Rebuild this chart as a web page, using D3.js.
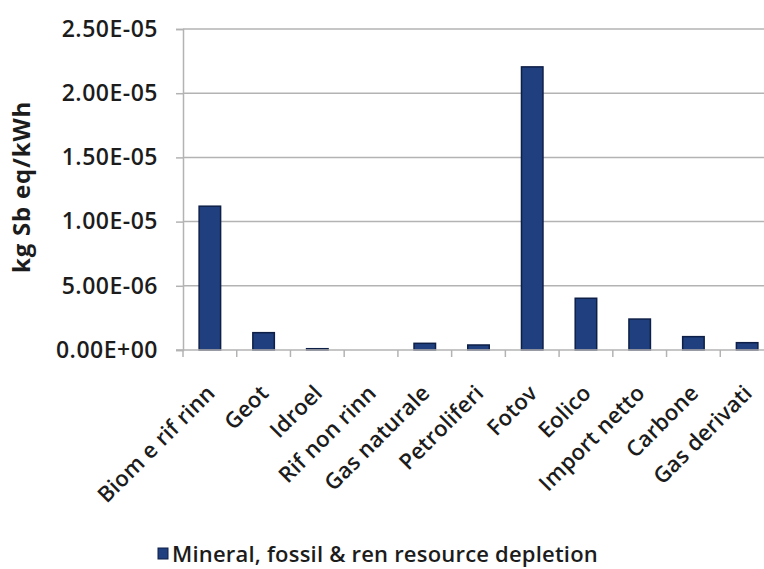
<!DOCTYPE html>
<html>
<head>
<meta charset="utf-8">
<script src="https://cdn.jsdelivr.net/npm/d3@7"></script>
<style>
  body { margin: 0; background: #fff; }
  text { font-family: "Open Sans", "Noto Sans", sans-serif; fill: #1c1c1c; }
</style>
</head>
<body>
<div id="chart"></div>
<script>
// data
const categories = ["Biom e rif rinn", "Geot", "Idroel", "Rif non rinn", "Gas naturale",
  "Petroliferi", "Fotov", "Eolico", "Import netto", "Carbone", "Gas derivati"];
const depletion = [1.12e-5, 1.35e-6, 1.0e-7, 0, 5.2e-7, 3.9e-7, 2.205e-5, 4.03e-6, 2.41e-6, 1.04e-6, 5.7e-7];
const yTicks = [0, 5e-6, 1e-5, 1.5e-5, 2e-5, 2.5e-5];
const seriesName = "Mineral, fossil & ren resource depletion";

const width = 764, height = 569;
const plotLeft = 183, plotRight = 774, plotTop = 29, plotBottom = 350;

const svg = d3.select("#chart").append("svg")
  .attr("width", width)
  .attr("height", height);

const x = d3.scaleBand()
  .domain(categories)
  .range([plotLeft, plotRight])
  .paddingInner(0.6)
  .paddingOuter(0.3);

const y = d3.scaleLinear()
  .domain([0, 2.5e-5])
  .range([plotBottom, plotTop]);

const fmt = v => {
  const s = v.toExponential(2).toUpperCase();
  // 1.50E-5 -> 1.50E-05
  return s.replace(/E([+-])(\d)$/, "E$10$2");
};

// gridlines
svg.append("g")
  .selectAll("line")
  .data(yTicks.slice(1))
  .enter().append("line")
  .attr("x1", plotLeft)
  .attr("x2", width)
  .attr("y1", d => y(d))
  .attr("y2", d => y(d))
  .attr("stroke", "#b3b3b3")
  .attr("stroke-width", 1.5);

// y axis
const yAxis = svg.append("g")
  .attr("transform", `translate(${plotLeft},0)`)
  .call(d3.axisLeft(y).tickValues(yTicks).tickFormat(fmt).tickSize(7).tickPadding(18));
yAxis.select(".domain").attr("stroke", "#b3b3b3").attr("stroke-width", 1.5);
yAxis.selectAll(".tick line").attr("stroke", "#b3b3b3").attr("stroke-width", 1.5);
yAxis.selectAll(".tick text")
  .attr("font-size", 23)
  .attr("font-weight", 600)
  .attr("letter-spacing", 0.5)
  .style("font-family", "'Open Sans', sans-serif")
  .attr("fill", "#1c1c1c");

// bars
svg.append("g")
  .selectAll("rect")
  .data(categories)
  .enter().append("rect")
  .attr("x", d => x(d))
  .attr("width", x.bandwidth())
  .attr("y", (d, i) => y(depletion[i]))
  .attr("height", (d, i) => y(0) - y(depletion[i]))
  .attr("fill", "#1f3f7e")
  .attr("stroke", "#0e1f47")
  .attr("stroke-width", 1.5);

// x axis line and ticks at category boundaries
svg.append("line")
  .attr("x1", plotLeft - 7)
  .attr("x2", width)
  .attr("y1", plotBottom)
  .attr("y2", plotBottom)
  .attr("stroke", "#b3b3b3")
  .attr("stroke-width", 1.5);

const step = x.step();
svg.append("g")
  .selectAll("line")
  .data(categories)
  .enter().append("line")
  .attr("x1", d => x(d) - step * 0.3)
  .attr("x2", d => x(d) - step * 0.3)
  .attr("y1", plotBottom)
  .attr("y2", plotBottom + 7)
  .attr("stroke", "#b3b3b3")
  .attr("stroke-width", 1.5);

// x labels, rotated
svg.append("g")
  .selectAll("text")
  .data(categories)
  .enter().append("text")
  .attr("transform", d => `translate(${x(d) + x.bandwidth() / 2 + 1},${plotBottom + 39}) rotate(-45)`)
  .attr("text-anchor", "end")
  .attr("dy", "0.35em")
  .attr("font-size", 22)
  .attr("font-weight", 600)
  .attr("letter-spacing", 0.2)
  .text(d => d);

// y title
svg.append("text")
  .attr("transform", "translate(30,187) rotate(-90)")
  .attr("text-anchor", "middle")
  .attr("font-size", 24)
  .attr("font-weight", "bold")
  .attr("letter-spacing", 0.8)
  .text("kg Sb eq/kWh");

// legend
const legend = svg.append("g").attr("transform", "translate(158,548)");
legend.append("rect")
  .attr("width", 10)
  .attr("height", 11)
  .attr("fill", "#1f3f7e")
  .attr("stroke", "#0e1f47");
legend.append("text")
  .attr("x", 14)
  .attr("y", 14)
  .attr("font-size", 22)
  .attr("font-weight", 600)
  .attr("letter-spacing", 0.2)
  .text(seriesName);
</script>
</body>
</html>
